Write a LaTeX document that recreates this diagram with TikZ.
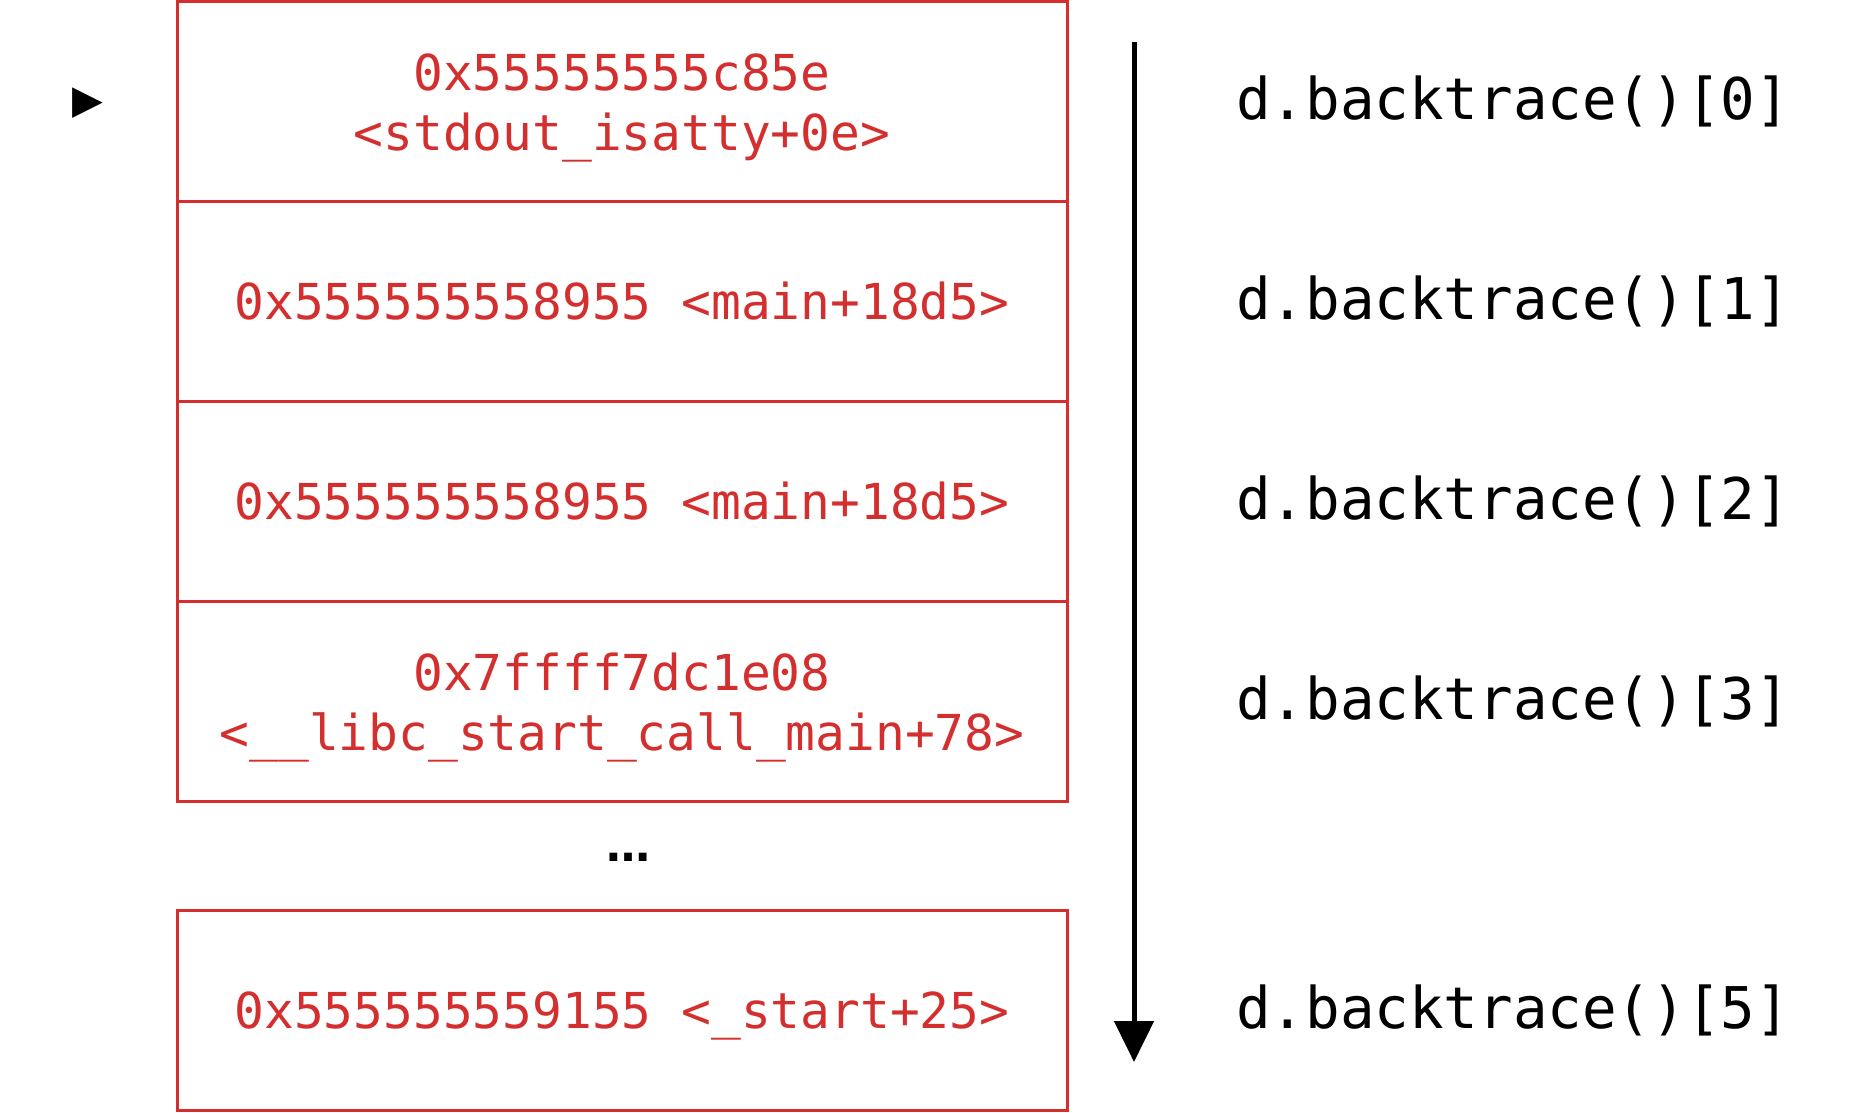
\documentclass[tikz,border=0pt]{standalone}
\usepackage{fontspec}
\setmonofont{DejaVu Sans Mono}
\newfontfamily\symfont{DejaVu Sans}
\usetikzlibrary{arrows.meta}
\definecolor{framered}{RGB}{211,47,47}
\begin{document}
\begin{tikzpicture}[x=1pt,y=-1pt,
  frame/.style={draw=framered, line width=3pt, minimum width=890pt, minimum height=200pt,
    inner sep=0pt},
  frametext/.style={inner sep=0pt, text=framered, font=\ttfamily\fontsize{49.5}{60}\selectfont, align=center},
  oneline/.style={frametext, text height=37pt, text depth=0pt},
  idxlabel/.style={anchor=west, inner sep=0pt, font=\ttfamily\fontsize{57.5}{69}\selectfont}]
\useasboundingbox (0,0) rectangle (1871,1112);
\node[frame] (f0) at (622,101) {};
\node[frame] (f1) at (622,301) {};
\node[frame] (f2) at (622,501) {};
\node[frame] (f3) at (622,701) {};
\node[frame] (f5) at (622,1010) {};
\node[frametext] (t0) at ([yshift=-7pt]f0.center) {0x55555555c85e\\<stdout\_isatty+0e>};
\node[oneline] (t1) at (f1.center) {0x555555558955 <main+18d5>};
\node[oneline] (t2) at (f2.center) {0x555555558955 <main+18d5>};
\node[frametext] (t3) at ([yshift=-7pt]f3.center) {0x7ffff7dc1e08\\<\_\_libc\_start\_call\_main+78>};
\node[oneline] (t5) at (f5.center) {0x555555559155 <\_start+25>};
\node[inner sep=0pt, font=\symfont\bfseries\fontsize{44}{44}\selectfont] (dots) at (628,857) {…};
\node[inner sep=0pt, font=\symfont\fontsize{40}{40}\selectfont] (cur) at (88,103) {▶};
\node[idxlabel] (l0) at (1236,101) {d.backtrace()[0]};
\node[idxlabel] (l1) at (1236,301) {d.backtrace()[1]};
\node[idxlabel] (l2) at (1236,501) {d.backtrace()[2]};
\node[idxlabel] (l3) at (1236,701) {d.backtrace()[3]};
\node[idxlabel] (l5) at (1236,1010) {d.backtrace()[5]};
\coordinate (astart) at (1134,42);
\coordinate (aend) at (1134,1062);
\draw[line width=5pt, -{Triangle[width=39pt,length=41pt]}] (astart) -- (aend);
\end{tikzpicture}
\end{document}
